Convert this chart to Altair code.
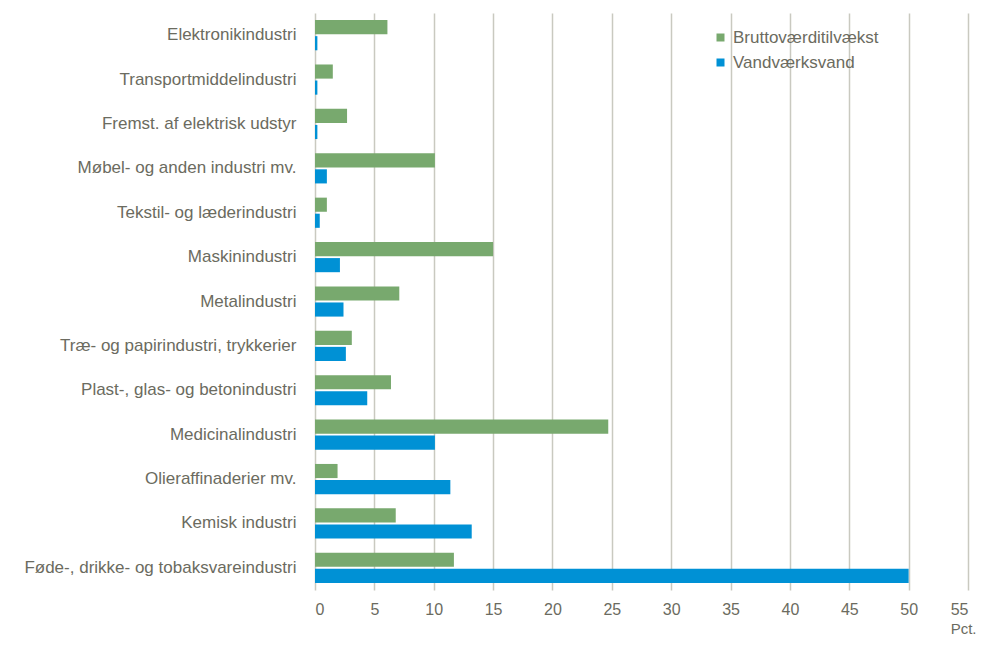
import altair as alt
import pandas as pd

categories = [
    "Elektronikindustri",
    "Transportmiddelindustri",
    "Fremst. af elektrisk udstyr",
    "Møbel- og anden industri mv.",
    "Tekstil- og læderindustri",
    "Maskinindustri",
    "Metalindustri",
    "Træ- og papirindustri, trykkerier",
    "Plast-, glas- og betonindustri",
    "Medicinalindustri",
    "Olieraffinaderier mv.",
    "Kemisk industri",
    "Føde-, drikke- og tobaksvareindustri",
]
brutto = [6.1, 1.5, 2.7, 10.1, 1.0, 15.0, 7.1, 3.1, 6.4, 24.7, 1.9, 6.8, 11.7]
vand = [0.2, 0.2, 0.2, 1.0, 0.4, 2.1, 2.4, 2.6, 4.4, 10.1, 11.4, 13.2, 50.0]
series = ["Bruttoværditilvækst", "Vandværksvand"]
colors = ["#78a96e", "#0091d5"]
x_ticks = list(range(0, 60, 5))

rows = []
for c, b, v in zip(categories, brutto, vand):
    rows.append({"Branche": c, "Serie": series[0], "Pct": b})
    rows.append({"Branche": c, "Serie": series[1], "Pct": v})
df = pd.DataFrame(rows)

FONT = "Liberation Sans"
TXT = "#6b6b60"

chart = alt.Chart(df).mark_bar().encode(
    y=alt.Y("Branche:N", sort=categories,
            scale=alt.Scale(paddingInner=0.32, paddingOuter=0.16),
            axis=alt.Axis(title=None, ticks=False, domain=False, labelFontSize=17,
                          labelColor=TXT, labelFont=FONT, labelPadding=19,
                          labelLimit=400)),
    yOffset=alt.YOffset("Serie:N", sort=series,
                        scale=alt.Scale(paddingInner=0.12)),
    x=alt.X("Pct:Q", scale=alt.Scale(domain=[0, 55], nice=False),
            axis=alt.Axis(values=x_ticks, title="Pct.", ticks=False, domain=False,
                          grid=True, gridColor="#c9c9c0", gridWidth=1.5,
                          labelFontSize=16, labelColor=TXT, labelFont=FONT,
                          labelPadding=11, titleFont=FONT, titleFontSize=15,
                          titleColor=TXT, titleFontWeight="normal",
                          titleX=661, titleY=38, titleAlign="right",
                          titleBaseline="middle")),
    color=alt.Color("Serie:N", sort=series,
                    scale=alt.Scale(domain=series, range=colors),
                    legend=alt.Legend(title=None, orient="none", legendX=397, legendY=16,
                                      symbolType="square", symbolSize=64,
                                      labelFont=FONT, labelFontSize=17,
                                      labelColor=TXT, rowPadding=7,
                                      symbolStrokeWidth=0)),
).properties(
    width=653, height=577,
    autosize=alt.AutoSizeParams(type="none"),
    padding={"left": 307, "top": 5, "right": 8, "bottom": 46},
).configure_view(stroke=None)

chart.save("out.html", embed_options={"renderer": "svg", "actions": False})
